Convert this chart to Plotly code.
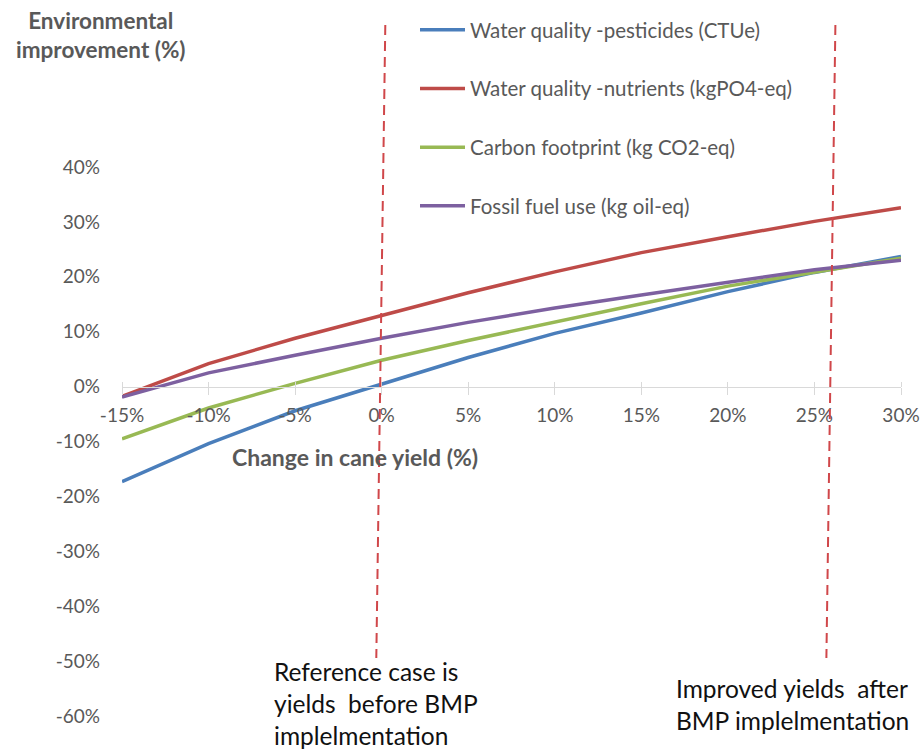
import plotly.graph_objects as go

# Change in cane yield (%) on the x axis
yield_change = [-15, -10, -5, 0, 5, 10, 15, 20, 25, 30]

# Environmental improvement (%) for each indicator
pesticides = [-17.3, -10.4, -4.4, 0.5, 5.3, 9.7, 13.4, 17.3, 20.8, 23.7]
nutrients = [-1.8, 4.2, 8.8, 13.0, 17.1, 20.9, 24.4, 27.3, 30.1, 32.6]
carbon = [-9.5, -3.9, 0.6, 4.8, 8.4, 11.8, 15.1, 18.3, 20.9, 23.4]
fossil = [-1.9, 2.5, 5.7, 8.8, 11.7, 14.3, 16.7, 19.0, 21.3, 23.0]

series_names = [
    "Water quality -pesticides (CTUe)",
    "Water quality -nutrients (kgPO4-eq)",
    "Carbon footprint (kg CO2-eq)",
    "Fossil fuel use (kg oil-eq)",
]
series_values = [pesticides, nutrients, carbon, fossil]
series_colors = ["#4A7EBB", "#BE4B48", "#98B954", "#7D60A0"]

y_ticks = [-60, -50, -40, -30, -20, -10, 0, 10, 20, 30, 40]

# Reference markers (yield change) with their captions
marker_positions = [0, 26]
marker_captions = [
    "Reference case is<br>yields  before BMP<br>implelmentation",
    "Improved yields  after<br>BMP implelmentation",
]

FONT = "Lato, 'Liberation Sans', sans-serif"
GREY = "#595959"

W, H = 923, 754
ML, MR, MT, MB = 122, 22, 167, 38
PW, PH = W - ML - MR, H - MT - MB


def px_x(px):
    return (px - ML) / PW


def px_y(py):
    return (H - MB - py) / PH


fig = go.Figure()
for i, (name, vals, col) in enumerate(zip(series_names, series_values, series_colors)):
    fig.add_trace(go.Scatter(
        x=yield_change, y=vals, name=name, mode="lines",
        line=dict(color=col, width=3.5),
        legendgroup=f"g{i}",
    ))

# invisible trace on the overlay axis so that its upward ticks are drawn
fig.add_trace(go.Scatter(x=yield_change, y=[0] * len(yield_change), xaxis="x2",
                         mode="lines", line=dict(width=0), showlegend=False,
                         hoverinfo="skip"))

fig.update_layout(
    width=W, height=H,
    margin=dict(l=ML, r=MR, t=MT, b=MB, autoexpand=False),
    paper_bgcolor="white", plot_bgcolor="white",
    font=dict(family=FONT, color=GREY, size=19),
    showlegend=True,
    legend=dict(
        x=px_x(415), y=px_y(10), xanchor="left", yanchor="top",
        bgcolor="rgba(0,0,0,0)", font=dict(size=20.5, color=GREY, family=FONT),
        tracegroupgap=29, itemwidth=45,
    ),
    xaxis=dict(
        range=[-15, 30], tickvals=yield_change,
        ticktext=[f"{v}%" for v in yield_change],
        anchor="free", position=0.6, automargin=False,
        showline=True, linecolor="#D9D9D9", linewidth=1.2,
        ticks="outside", ticklen=7, tickcolor="#D9D9D9", tickwidth=1.2,
        ticklabelstandoff=4,
        showgrid=False, zeroline=False,
        tickfont=dict(size=19, color=GREY),
    ),
    xaxis2=dict(
        range=[-15, 30], tickvals=yield_change, overlaying="x",
        anchor="free", position=0.6, side="top", automargin=False,
        ticks="outside", ticklen=5, tickcolor="#D9D9D9", tickwidth=1.2,
        showticklabels=False, showgrid=False, zeroline=False, showline=False,
    ),
    yaxis=dict(
        range=[-60, 40], tickvals=y_ticks, automargin=False,
        ticktext=[f"{v}%" for v in y_ticks],
        showgrid=False, zeroline=False, showline=False,
        ticks="", ticklabelstandoff=21,
        tickfont=dict(size=19, color=GREY),
    ),
)

# dashed reference markers
for xpos in marker_positions:
    fig.add_shape(type="line", xref="x", yref="paper",
                  x0=xpos + 0.21, y0=px_y(25),
                  x1=xpos - 0.31, y1=px_y(658),
                  line=dict(color="#D0474A", width=2, dash="10px,6px"))

# captions under the markers
fig.add_annotation(x=px_x(272), xref="paper", y=px_y(655), yref="paper",
                   xanchor="left", yanchor="top",
                   text=marker_captions[0], showarrow=False, align="left",
                   font=dict(size=24.5, color="#111111", family=FONT))
fig.add_annotation(x=px_x(674), xref="paper", y=px_y(672), yref="paper",
                   xanchor="left", yanchor="top",
                   text=marker_captions[1], showarrow=False, align="left",
                   font=dict(size=24.5, color="#111111", family=FONT))

# axis titles
fig.add_annotation(x=px_x(101), xref="paper", y=px_y(5), yref="paper",
                   xanchor="center", yanchor="top", showarrow=False,
                   text="<b>Environmental<br>improvement (%)</b>", align="center",
                   font=dict(size=22.5, color=GREY, family=FONT))
fig.add_annotation(x=px_x(355), xref="paper", y=px_y(457), yref="paper",
                   xanchor="center", yanchor="middle", showarrow=False,
                   text="<b>Change in cane yield (%)</b>",
                   font=dict(size=23, color=GREY, family=FONT))

fig.write_html("out.html")
